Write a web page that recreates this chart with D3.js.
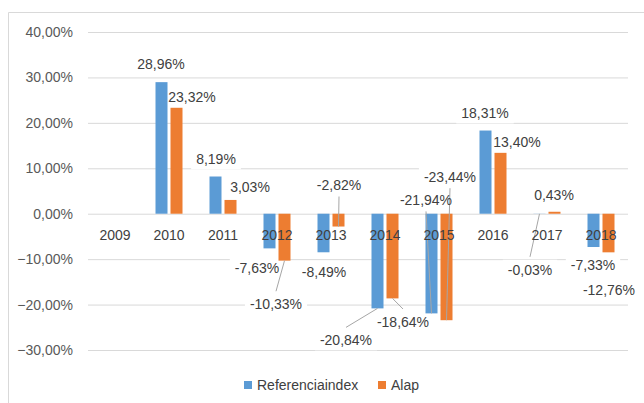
<!DOCTYPE html>
<html>
<head>
  <meta charset="utf-8">
  <title>Referenciaindex vs Alap</title>
  <script src="https://d3js.org/d3.v7.min.js"></script>
  <style>
    body { margin: 0; background: #fff; }
    svg text { font-family: "Liberation Sans", Arial, sans-serif; font-size: 14px; }
    .axis--y text { fill: #595959; }
    .axis--x text { fill: #404040; }
    .axis path { display: none; }
    .axis--y line { stroke: #d9d9d9; }
    .label { fill: #404040; }
  </style>
</head>
<body>
<svg width="644" height="403"></svg>
<script>

// data
var years = ["2009", "2010", "2011", "2012", "2013", "2014", "2015", "2016", "2017", "2018"];
var series = ["Referenciaindex", "Alap"];
var refValues  = [null, 28.96, 8.19, -7.63, -8.49, -20.84, -21.94, 18.31, -0.03, -7.33];
var alapValues = [null, 23.32, 3.03, -10.33, -2.82, -18.64, -23.44, 13.40, 0.43, -8.5];
var refLabels  = [null, "28,96%", "8,19%", "-7,63%", "-8,49%", "-20,84%", "-21,94%", "18,31%", "-0,03%", "-7,33%"];
var alapLabels = [null, "23,32%", "3,03%", "-10,33%", "-2,82%", "-18,64%", "-23,44%", "13,40%", "0,43%", "-12,76%"];
var yTicks = [-30, -20, -10, 0, 10, 20, 30, 40];

// label nudges relative to bar end (dx, dy), leader = draw a connector
var refNudge = [null, [-0.5, -18], [0.5, -17], [-12.5, 20], [0.5, 20], [-31.5, 32, 1], [-5.5, -113, 1], [-0.5, -17], [-9.5, 56, 1], [-0.5, 18]];
var alapNudge = [null, [15.5, -10.5], [19.5, -13], [-8.5, 43.6, 1], [0.5, -41, 1], [10.5, 23.6, 1], [3.5, -143, 1], [16.5, -11], [-0.5, -17], [0.5, 38]];

var colors = { "Referenciaindex": "#5b9bd5", "Alap": "#ed7d31" };

var svg = d3.select("svg");

// chart frame
svg.append("path")
    .attr("d", "M8.5,403V12.5H644")
    .attr("fill", "none")
    .attr("stroke", "#d9d9d9");

var x = d3.scaleBand().domain(years).range([88, 628]).paddingInner(0.5).paddingOuter(0.25),
    x1 = d3.scaleBand().domain(series).range([0, x.bandwidth()]).paddingInner(0.2),
    y = d3.scaleLinear().domain([-30, 40]).range([350, 32]);

svg.append("g")
    .attr("class", "axis axis--y")
    .attr("transform", "translate(88,0)")
    .call(d3.axisLeft(y).tickValues(yTicks).tickSize(-540).tickPadding(15)
      .tickFormat(function(d) { return d3.format(".2f")(d).replace(".", ",") + "%"; }));

var points = [];
years.forEach(function(yr, i) {
  [[series[0], refValues[i], refLabels[i], refNudge[i]],
   [series[1], alapValues[i], alapLabels[i], alapNudge[i]]].forEach(function(s) {
    if (s[1] == null) return;
    var cx = x(yr) + x1(s[0]) + x1.bandwidth() / 2;
    var ey = y(s[1]);
    points.push({ name: s[0], year: yr, value: s[1], text: s[2], cx: cx, ey: ey,
      lx: cx + s[3][0], ly: ey + s[3][1], leader: !!s[3][2] });
  });
});

// label backgrounds (hide gridlines, sit under the bars)
var boxes = svg.append("g");

svg.append("g").selectAll("rect")
  .data(points)
  .enter().append("rect")
    .attr("x", function(d) { return x(d.year) + x1(d.name); })
    .attr("y", function(d) { return y(Math.max(0, d.value)); })
    .attr("width", x1.bandwidth())
    .attr("height", function(d) { return Math.abs(y(d.value) - y(0)); })
    .attr("fill", function(d) { return colors[d.name]; });

svg.append("g").selectAll("line")
  .data(points.filter(function(d) { return d.leader; }))
  .enter().append("line")
    .attr("x1", function(d) { return d.lx; })
    .attr("y1", function(d) { return d.ly + (d.ly < d.ey ? 11 : -13); })
    .attr("x2", function(d) { return d.cx; })
    .attr("y2", function(d) { return d.ey; })
    .attr("stroke", "#a6a6a6");

var labels = svg.append("g").selectAll("text")
  .data(points)
  .enter().append("text")
    .attr("class", "label")
    .attr("x", function(d) { return d.lx; })
    .attr("y", function(d) { return d.ly; })
    .attr("dy", "0.35em")
    .attr("text-anchor", "middle")
    .text(function(d) { return d.text; });

labels.each(function() {
  var b = this.getBBox();
  boxes.append("rect")
    .attr("x", b.x - 5).attr("y", b.y - 2)
    .attr("width", b.width + 10).attr("height", b.height + 4)
    .attr("fill", "#fff");
});

svg.append("g")
    .attr("class", "axis axis--x")
    .attr("transform", "translate(0," + y(0) + ")")
    .call(d3.axisBottom(x).tickSize(0).tickPadding(16));

// legend
var legend = svg.append("g").selectAll("g")
  .data(series)
  .enter().append("g")
    .attr("transform", function(d, i) { return "translate(" + [244, 378][i] + ",381)"; });

legend.append("rect")
    .attr("width", 8).attr("height", 8)
    .attr("fill", function(d) { return colors[d]; });

legend.append("text")
    .attr("x", 13).attr("y", 4)
    .attr("dy", "0.35em")
    .attr("fill", "#404040")
    .text(function(d) { return d; });

</script>
</body>
</html>
